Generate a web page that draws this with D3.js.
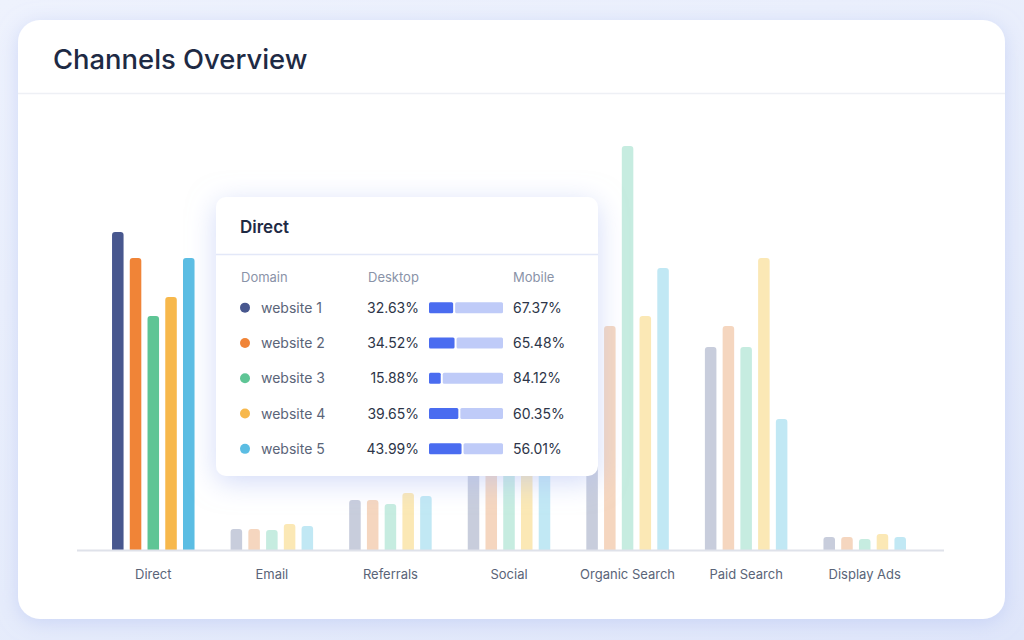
<!DOCTYPE html>
<html>
<head>
<meta charset="utf-8">
<script src="https://cdn.jsdelivr.net/npm/d3@7"></script>
<style>
	html, body { margin: 0; padding: 0; }
	body {
		width: 1024px; height: 640px; overflow: hidden;
		background: linear-gradient(160deg, #eef2fd 0%, #e6ecfb 60%, #dfe6fa 100%);
		font-family: "Inter", "Noto Sans", sans-serif;
	}
	svg { display: block; }
</style>
</head>
<body>
<div id="chart"></div>
<script>
// categorieen en reeksen
const channels = ["Direct", "Email", "Referrals", "Social", "Organic Search", "Paid Search", "Display Ads"];
const sites = ["website 1", "website 2", "website 3", "website 4", "website 5"];

// bezoeken per kanaal (duizenden), een lijst per website
const website1 = [318, 21, 50, 125, 200, 203, 13];
const website2 = [292, 21, 50, 140, 224, 224, 13];
const website3 = [234, 20, 46, 150, 404, 203, 11];
const website4 = [253, 26, 57, 130, 234, 292, 16];
const website5 = [292, 24, 54, 120, 282, 131, 13];

// tooltip waarden voor "Direct"
const desktopShare = [32.63, 34.52, 15.88, 39.65, 43.99];
const mobileShare = [67.37, 65.48, 84.12, 60.35, 56.01];

const activeChannel = "Direct";
const strongColors = ["#48578e", "#f08437", "#5ec595", "#f7b84c", "#5bbde3"];
const paleColors = ["#c8cddc", "#f5d6bf", "#c6ece0", "#fbe8b5", "#c1e8f4"];

const series = [website1, website2, website3, website4, website5];

const W = 1024, H = 640;
const svg = d3.select("#chart").append("svg").attr("width", W).attr("height", H);

const defs = svg.append("defs");
const cardShadow = defs.append("filter").attr("id", "cardShadow")
	.attr("x", "-10%").attr("y", "-10%").attr("width", "120%").attr("height", "120%");
cardShadow.append("feDropShadow").attr("dx", 0).attr("dy", 4).attr("stdDeviation", 10)
	.attr("flood-color", "#b9c6f2").attr("flood-opacity", 0.6);
const tipShadow = defs.append("filter").attr("id", "tipShadow")
	.attr("x", "-20%").attr("y", "-20%").attr("width", "140%").attr("height", "140%");
tipShadow.append("feDropShadow").attr("dx", 0).attr("dy", 6).attr("stdDeviation", 14)
	.attr("flood-color", "#aebdf3").attr("flood-opacity", 0.55);

// kaart
svg.append("rect")
	.attr("x", 18).attr("y", 20).attr("width", 987).attr("height", 599)
	.attr("rx", 22).attr("fill", "#fff").attr("filter", "url(#cardShadow)");

svg.append("text")
	.attr("x", 53).attr("y", 69)
	.attr("fill", "#1e2a44")
	.style("font-size", "27.4px").style("font-weight", 500)
	.text("Channels Overview");

svg.append("line")
	.attr("x1", 18).attr("x2", 1005).attr("y1", 93.5).attr("y2", 93.5)
	.attr("stroke", "#eef0f5").attr("stroke-width", 1.5);

// schalen
const groupW = 82.5;
const x0 = d3.scaleBand().domain(channels).range([94, 924]).padding(0);
const x1 = d3.scaleBand().domain(sites).range([0, groupW]).paddingInner(0.35).paddingOuter(0);
const y = d3.scaleLinear().domain([0, 420]).range([550, 130]);

const plot = svg.append("g");

const groups = plot.selectAll(".group").data(channels).enter()
	.append("g")
	.attr("class", "group")
	.attr("transform", d => `translate(${x0(d) + (x0.bandwidth() - groupW) / 2},0)`);

groups.selectAll("path.bar")
	.data((c, ci) => sites.map((s, si) => ({ channel: c, site: s, si, value: series[si][ci] })))
	.enter()
	.append("path")
	.attr("class", "bar")
	.attr("fill", d => d.channel === activeChannel ? strongColors[d.si] : paleColors[d.si])
	.attr("d", d => {
		const bx = x1(d.site), bw = x1.bandwidth();
		const top = y(d.value), bot = y(0), r = Math.min(3, bw / 2);
		return `M${bx},${bot}V${top + r}Q${bx},${top} ${bx + r},${top}H${bx + bw - r}Q${bx + bw},${top} ${bx + bw},${top + r}V${bot}Z`;
	});

// x-as
const xAxis = d3.axisBottom(x0).tickSize(0).tickPadding(20);
const axisG = svg.append("g").attr("transform", "translate(0,550)").call(xAxis);
axisG.select(".domain").remove();
axisG.selectAll(".tick text")
	.attr("fill", "#5a6478")
	.style("font-size", "13px")
	.style("font-family", "Inter, 'Noto Sans', sans-serif");
svg.append("line")
	.attr("x1", 77).attr("x2", 944).attr("y1", 550.5).attr("y2", 550.5)
	.attr("stroke", "#dfe2ea").attr("stroke-width", 2);

// tooltip
const tip = svg.append("g").attr("transform", "translate(216,197)");
tip.append("rect")
	.attr("width", 382).attr("height", 279).attr("rx", 10)
	.attr("fill", "#fff").attr("filter", "url(#tipShadow)");
tip.append("text")
	.attr("x", 24).attr("y", 36)
	.attr("fill", "#1e2a44")
	.style("font-size", "17px").style("font-weight", 600)
	.text(activeChannel);
tip.append("line")
	.attr("x1", 0).attr("x2", 382).attr("y1", 57.5).attr("y2", 57.5)
	.attr("stroke", "#e3e8f8").attr("stroke-width", 1.5);

const headers = [["Domain", 25], ["Desktop", 152], ["Mobile", 297]];
tip.selectAll(".hdr").data(headers).enter()
	.append("text")
	.attr("class", "hdr")
	.attr("x", d => d[1]).attr("y", 85)
	.attr("fill", "#8a93a8")
	.style("font-size", "13px")
	.text(d => d[0]);

const rowY = d3.scaleBand().domain(sites).range([93, 269.5]);
const share = d3.scaleLinear().domain([0, 100]).range([0, 74]);

const rows = tip.selectAll(".row").data(sites).enter()
	.append("g")
	.attr("class", "row")
	.attr("transform", d => `translate(0,${rowY(d) + rowY.bandwidth() / 2})`);

rows.append("circle").attr("cx", 29).attr("cy", 0).attr("r", 5)
	.attr("fill", (d, i) => strongColors[i]);
rows.append("text").attr("x", 45).attr("y", 5)
	.attr("fill", "#5a6478").style("font-size", "14px")
	.text(d => d);
rows.append("text").attr("x", 203).attr("y", 5)
	.attr("text-anchor", "end")
	.attr("fill", "#2d3548").style("font-size", "14px")
	.text((d, i) => desktopShare[i].toFixed(2) + "%");
rows.append("rect")
	.attr("x", 213).attr("y", -5.5).attr("height", 11).attr("rx", 1.5)
	.attr("width", (d, i) => share(desktopShare[i]))
	.attr("fill", "#4a6cf0");
rows.append("rect")
	.attr("x", (d, i) => 213 + share(desktopShare[i]) + 2).attr("y", -5.5).attr("height", 11).attr("rx", 1.5)
	.attr("width", (d, i) => share(mobileShare[i]) - 2)
	.attr("fill", "#bfcbf8");
rows.append("text").attr("x", 297).attr("y", 5)
	.attr("fill", "#2d3548").style("font-size", "14px")
	.text((d, i) => mobileShare[i].toFixed(2) + "%");
</script>
</body>
</html>
